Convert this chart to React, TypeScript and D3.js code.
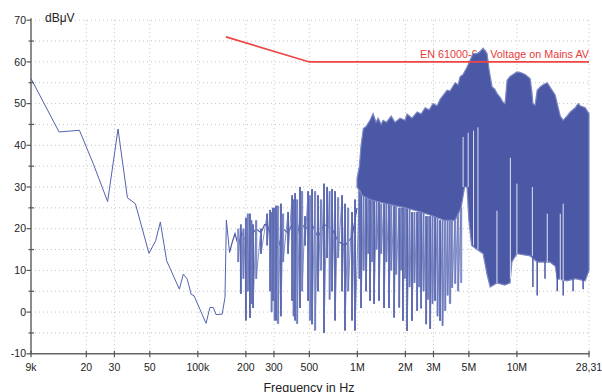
import React, { useRef, useEffect } from "react";
import * as d3 from "d3";

// axis ticks
const xTickValues = [9e3, 2e4, 3e4, 5e4, 1e5, 2e5, 3e5, 5e5, 1e6, 2e6, 3e6, 5e6, 1e7, 28.31e6];
const xTickLabels = ["9k", "20", "30", "50", "100k", "200", "300", "500", "1M", "2M", "3M", "5M", "10M", "28,31"];
const yTickValues = [-10, 0, 10, 20, 30, 40, 50, 60, 70];
const yMinorValues = [-5, 5, 15, 25, 35, 45, 55, 65];

// limit line EN 61000-6-4 AV
const limitFreqMHz = [0.15, 0.5, 28.31];
const limitLevel = [66, 60, 60];

// 9 kHz - 150 kHz sweep
const sweepFreqKHz = [9, 13.5, 18.1, 22.1, 27.2, 31.6, 36.2, 40.6, 49.4, 54.4, 58.2, 63.8, 76.6, 81.1, 85.9, 90.7, 94.7, 103, 112.6, 119, 125, 130, 142, 148, 151, 158];
const sweepLevel = [56, 43.2, 43.6, 35.6, 26.5, 43.9, 27.4, 26, 14.1, 17.1, 21.6, 12.3, 5.5, 9.1, 7.9, 4.3, 3.9, 0.7, -2.7, 1.1, 1.1, -0.6, -0.5, 3.5, 22.1, 14.3];

// 150 kHz - 1 MHz running trace
const baseFreqMHz = [0.158, 0.165, 0.171, 0.179, 0.189, 0.2, 0.212, 0.222, 0.232, 0.249, 0.262, 0.272, 0.296, 0.318, 0.342, 0.368, 0.39, 0.419, 0.437, 0.47, 0.52, 0.567, 0.618, 0.694, 0.757, 0.837, 0.926, 0.995];
const baseLevel = [14.3, 17, 18.8, 16, 19, 17, 16, 19, 20, 19, 21, 21, 17, 15, 20, 19, 21, 18, 22, 20, 21, 18, 21, 20, 17, 16, 18, 25];

// vertical excursions of the trace (MHz, top dB, bottom dB, 1 = light)
const spikeFreqMHz = [
  0.179, 0.186, 0.193, 0.2, 0.206, 0.212, 0.217, 0.222, 0.232, 0.249, 0.272, 0.284, 0.29, 0.296, 0.303, 0.309, 0.318, 0.332, 0.342, 0.368,
  0.39, 0.398, 0.407, 0.419, 0.437, 0.45, 0.47, 0.491, 0.505, 0.52, 0.543, 0.567, 0.592, 0.618, 0.646, 0.67, 0.694, 0.725, 0.757, 0.802,
  0.837, 0.875, 0.926, 0.967,
  1.03, 1.055, 1.094, 1.134, 1.17, 1.2, 1.237, 1.273, 1.32, 1.368, 1.41, 1.47, 1.52, 1.58, 1.63, 1.7, 1.75, 1.83, 1.88, 1.93,
  1.99, 2.05, 2.125, 2.2, 2.28, 2.37, 2.44, 2.51, 2.6, 2.7, 2.77, 2.86, 2.96, 3.07, 3.18, 3.3, 3.42, 3.55, 3.68, 3.81,
  3.92, 4.1, 4.28, 4.47,
];
const spikeTop = [
  20, 21, 20, 22.6, 23.6, 23.6, 22, 21, 22, 20, 23.6, 24.5, 24, 25, 25, 25.5, 25.5, 26, 23.6, 24,
  28, 27, 28.5, 27, 30, 29, 23, 29, 28, 29.5, 29, 28, 27, 30.8, 30, 29, 29.5, 29, 27.5, 28,
  26, 25, 24, 27,
  30, 38, 29, 28, 28, 27, 27, 27, 27, 27, 26, 26, 26, 26, 26, 26, 26, 25, 25, 25,
  25, 25, 25, 24, 24, 24, 24, 24, 24, 23, 23, 23, 23, 23, 23, 22, 22, 22, 22, 22,
  22, 22, 24, 25,
];
const spikeBottom = [
  12, 4.4, 8, -2, 5, -1.4, 2, 1, 8, 14, 16, 5, 0, 2.7, -2, -2, -2.8, -1, 12, 14,
  2.7, -1, -2, -2.8, 1, 5, 16, 2.7, -2, -2.9, -4.4, 5, 10, -5, 13, 3, 5, -2, 13, 5,
  -4.4, 5, -2, -4.4,
  8, 1, 10, 5, 14, 2.7, 12, 2, 15, 2.7, 14, 1, 12, 1, 10, -1.3, 9, 1.1, 10, -2.1,
  8, -4.5, 6, -2.1, 7, 0.3, 6, 0.9, 5, -2.9, 3, -4, 2, 2.7, -1, -2.1, -3.3, 0.3, 4, 2,
  5.8, 6.8, 5, 7,
];
const spikeLight = [
  1, 0, 1, 0, 1, 0, 1, 0, 1, 0, 0, 0, 1, 0, 1, 0, 1, 0, 1, 0,
  0, 1, 0, 1, 0, 1, 0, 0, 1, 0, 1, 0, 1, 0, 0, 1, 0, 0, 1, 0,
  0, 1, 0, 0,
  0, 0, 1, 0, 1, 0, 1, 0, 1, 0, 1, 0, 1, 0, 1, 0, 1, 0, 1, 0,
  1, 0, 1, 0, 1, 0, 1, 0, 1, 0, 1, 0, 1, 0, 1, 0, 1, 1, 1, 1,
  1, 1, 1, 1,
];

// short drops below the dense part above 10 MHz
const dropFreqMHz = [12.6, 13.4, 15.0, 17.9, 19.5, 22.5, 26.0];
const dropTop = [13, 12, 12, 10, 8, 8, 8];
const dropBottom = [6, 4, 8, 5, 4, 5, 5.5];

// dense part above 1 MHz: upper and lower envelope
const topFreqMHz = [0.995, 1.03, 1.055, 1.09, 1.134, 1.2, 1.255, 1.31, 1.35, 1.41, 1.45, 1.52, 1.63, 1.72, 1.85, 1.99, 2.05, 2.2, 2.37, 2.51, 2.66, 2.82, 2.98, 3.16, 3.3, 3.45, 3.65, 3.81, 4.1, 4.28, 4.4, 4.6, 4.87, 5.09, 5.31, 5.63, 5.88, 6.14, 6.5, 6.7, 6.99, 7.25, 7.52, 7.85, 8.19, 8.43, 8.68, 9.06, 9.47, 10.0, 10.47, 11.26, 12.1, 12.4, 12.6, 13.0, 13.4, 14.0, 14.6, 15.5, 16.1, 17.4, 17.9, 18.7, 19.5, 20.6, 21.6, 23.2, 24.2, 24.9, 26.8, 28.31];
const topLevel = [32, 35, 40, 44, 44.5, 46, 47.6, 45.5, 46.5, 45, 46, 45.5, 47, 45.5, 46.5, 46, 47.5, 46.5, 48, 47.5, 49, 48.5, 50, 49.5, 51, 52, 53.2, 53, 55, 54.5, 56.4, 57, 58.7, 60.4, 62, 62, 62.5, 63.3, 62, 58, 54, 53.5, 52.4, 51.5, 50.3, 50, 55.6, 56.5, 57, 57.6, 57.5, 57, 56, 53, 50, 49.6, 53.2, 54, 54.5, 55, 54, 52, 50, 47, 46, 47, 48, 49, 50, 49.5, 49, 47.6];
const bottomFreqMHz = [0.995, 1.04, 1.07, 1.2, 1.5, 2.0, 2.5, 3.0, 3.5, 4.1, 4.47, 4.7, 4.87, 5.0, 5.2, 5.63, 6.14, 6.5, 6.8, 7.5, 8.4, 9.06, 9.3, 10.0, 12.1, 13.4, 16.1, 17.4, 17.9, 20.6, 23.2, 26.8, 28.31];
const bottomLevel = [30, 29, 28, 27, 26, 25, 24, 23, 22, 22, 25, 30, 30, 22, 16, 15, 14, 9, 6, 7, 6.5, 7, 12, 14, 13.5, 12, 12, 11, 8, 7.5, 8, 7.5, 10];

// narrow openings inside the dense part (MHz, upper end dB)
const gapFreqMHz = [4.6, 4.95, 5.35, 5.7, 7.5, 9.1, 10.0, 12.5, 15.5, 18.7, 19.5];
const gapTop = [42, 43, 43.5, 44.3, 24.3, 37, 30.8, 30, 23.6, 23.6, 26];
const gapBottom = [30, 30, 16, 15, 7, 8, 14, 13.5, 12, 7.5, 7.5];

const dark = "#4a58a6";
const light = "#a6aedb";

const EmissionChart = () => {
  const svgRef = useRef(null);

  const width = 602;
  const height = 392;

  useEffect(() => {
    const svg = d3.select(svgRef.current);
    svg.selectAll("*").remove();

    const x = d3.scaleLog().domain([9e3, 28.31e6]).range([31, 589]);
    const y = d3.scaleLinear().domain([-10, 70]).range([353.8, 20.2]);
    const font = "'Liberation Sans', Arial, sans-serif";

    // grid
    const grid = svg.append("g")
      .attr("stroke", "#c4c4c4")
      .attr("stroke-width", 1)
      .attr("stroke-dasharray", "1,3");
    grid.selectAll("line.h")
      .data(yTickValues.slice(1).concat(yMinorValues))
      .join("line")
      .attr("x1", 31).attr("x2", 589)
      .attr("y1", d => y(d)).attr("y2", d => y(d));
    grid.selectAll("line.v")
      .data(xTickValues.slice(1))
      .join("line")
      .attr("class", "v")
      .attr("x1", d => x(d)).attr("x2", d => x(d))
      .attr("y1", y(70)).attr("y2", y(-10));

    // y axis
    const yAxis = svg.append("g");
    yAxis.append("line")
      .attr("x1", 31).attr("x2", 31)
      .attr("y1", y(70) - 2).attr("y2", y(-10))
      .attr("stroke", "#8c8c8c").attr("stroke-width", 2);
    yAxis.selectAll("line.maj")
      .data(yTickValues)
      .join("line")
      .attr("class", "maj")
      .attr("x1", 26.5).attr("x2", 31)
      .attr("y1", d => y(d)).attr("y2", d => y(d))
      .attr("stroke", "#555").attr("stroke-width", 1.2);
    yAxis.selectAll("line.min")
      .data(yMinorValues)
      .join("line")
      .attr("class", "min")
      .attr("x1", 28.5).attr("x2", 34)
      .attr("y1", d => y(d)).attr("y2", d => y(d))
      .attr("stroke", "#555").attr("stroke-width", 1.2);
    yAxis.selectAll("text")
      .data(yTickValues)
      .join("text")
      .attr("x", 26)
      .attr("y", d => y(d))
      .attr("dy", "0.35em")
      .attr("text-anchor", "end")
      .attr("font-family", font)
      .attr("font-size", 10.5)
      .attr("fill", "#222")
      .text(d => d);

    // x axis
    const xAxis = svg.append("g");
    xAxis.append("line")
      .attr("x1", 30).attr("x2", 589.5)
      .attr("y1", y(-10)).attr("y2", y(-10))
      .attr("stroke", "#666").attr("stroke-width", 1.5);
    xAxis.selectAll("line.t")
      .data(xTickValues)
      .join("line")
      .attr("class", "t")
      .attr("x1", d => x(d)).attr("x2", d => x(d))
      .attr("y1", y(-10) - 3).attr("y2", y(-10) + 3.5)
      .attr("stroke", "#555").attr("stroke-width", 1.2);
    xAxis.selectAll("text")
      .data(xTickValues)
      .join("text")
      .attr("x", d => x(d))
      .attr("y", 370.5)
      .attr("text-anchor", "middle")
      .attr("font-family", font)
      .attr("font-size", 10.5)
      .attr("fill", "#222")
      .text((d, i) => xTickLabels[i]);

    svg.append("text")
      .attr("x", 309).attr("y", 392)
      .attr("text-anchor", "middle")
      .attr("font-family", font)
      .attr("font-size", 12.5)
      .attr("fill", "#222")
      .text("Frequency in Hz");

    svg.append("text")
      .attr("x", 45).attr("y", 22)
      .attr("font-family", font)
      .attr("font-size", 12)
      .attr("fill", "#222")
      .text("dBμV");

    // limit label
    svg.append("text")
      .attr("x", 589).attr("y", 57.5)
      .attr("text-anchor", "end")
      .attr("font-family", font)
      .attr("font-size", 10.8)
      .attr("fill", "#e83c3c")
      .text("EN 61000-6-4 Voltage on Mains AV");

    const line = d3.line().x(d => x(d[0])).y(d => y(d[1]));

    // low-frequency sweep
    svg.append("path")
      .attr("d", line(sweepFreqKHz.map((f, i) => [f * 1e3, sweepLevel[i]])))
      .attr("fill", "none")
      .attr("stroke", "#5563ae")
      .attr("stroke-width", 1);

    svg.append("path")
      .attr("d", line(baseFreqMHz.map((f, i) => [f * 1e6, baseLevel[i]])))
      .attr("fill", "none")
      .attr("stroke", dark)
      .attr("stroke-width", 1.2);

    // light spikes first, dark ones on top
    const order = spikeFreqMHz.map((f, i) => i).sort((a, b) => spikeLight[b] - spikeLight[a]);
    svg.append("g")
      .selectAll("line")
      .data(order)
      .join("line")
      .attr("x1", i => x(spikeFreqMHz[i] * 1e6))
      .attr("x2", i => x(spikeFreqMHz[i] * 1e6))
      .attr("y1", i => y(spikeTop[i]))
      .attr("y2", i => y(spikeBottom[i]))
      .attr("stroke", i => (spikeLight[i] ? light : dark))
      .attr("stroke-width", i => (spikeLight[i] ? 2.4 : 1.8));

    // the sweep zig-zags between the excursions
    const zig = [];
    spikeFreqMHz.forEach((f, i) => {
      zig.push([f * 1e6, spikeTop[i]]);
      zig.push([f * 1e6, spikeBottom[i]]);
    });
    svg.append("path")
      .attr("d", line(zig))
      .attr("fill", "none")
      .attr("stroke", "#6572b6")
      .attr("stroke-width", 0.8);

    // dense band
    const band = topFreqMHz.map((f, i) => [f * 1e6, topLevel[i]])
      .concat(bottomFreqMHz.map((f, i) => [f * 1e6, bottomLevel[i]]).reverse());
    svg.append("path")
      .attr("d", line(band) + "Z")
      .attr("fill", dark)
      .attr("stroke", "#7d87c2")
      .attr("stroke-width", 1.2);

    svg.append("g")
      .selectAll("line")
      .data(dropFreqMHz.map((f, i) => i))
      .join("line")
      .attr("x1", i => x(dropFreqMHz[i] * 1e6))
      .attr("x2", i => x(dropFreqMHz[i] * 1e6))
      .attr("y1", i => y(dropTop[i]))
      .attr("y2", i => y(dropBottom[i]))
      .attr("stroke", dark)
      .attr("stroke-width", 1.5);

    // openings
    svg.append("g")
      .selectAll("line")
      .data(gapFreqMHz.map((f, i) => i))
      .join("line")
      .attr("x1", i => x(gapFreqMHz[i] * 1e6))
      .attr("x2", i => x(gapFreqMHz[i] * 1e6))
      .attr("y1", i => y(gapTop[i]))
      .attr("y2", i => y(gapBottom[i]))
      .attr("stroke", "#dfe2f2")
      .attr("stroke-width", 1);

    // limit line
    svg.append("path")
      .attr("d", line(limitFreqMHz.map((f, i) => [f * 1e6, limitLevel[i]])))
      .attr("fill", "none")
      .attr("stroke", "#ee4444")
      .attr("stroke-width", 1.6);
  }, []);

  return (
    <svg
      ref={svgRef}
      width={width}
      height={height}
      style={{ position: "absolute", left: 0, top: 0, background: "#fff" }}
    />
  );
};

export default function App() {
  return <EmissionChart />;
}
